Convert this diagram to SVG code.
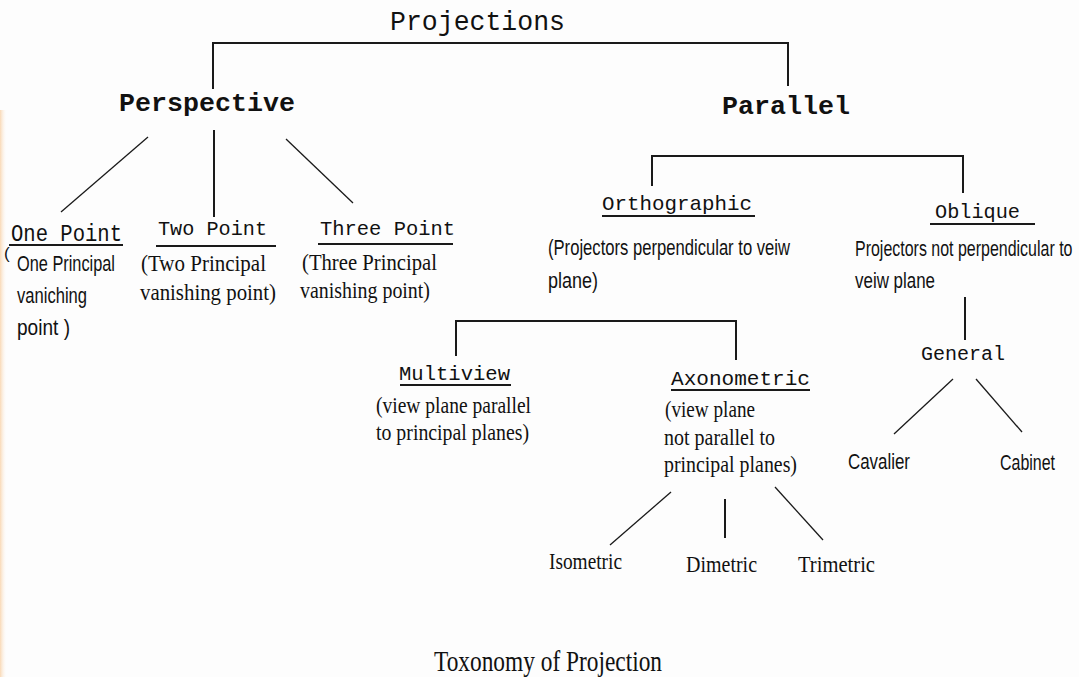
<svg xmlns="http://www.w3.org/2000/svg" width="1079" height="677" viewBox="0 0 1079 677">
<defs>
<linearGradient id="edge" x1="0" y1="0" x2="1" y2="0">
<stop offset="0" stop-color="#f9d9b6"/>
<stop offset="1" stop-color="#fdfdfd" stop-opacity="0"/>
</linearGradient>
<style>
.mono{font-family:"Liberation Mono","Courier New",monospace;fill:#111}
.big{font-size:26px;font-weight:bold}
.mid{font-size:21px}
.sans{font-family:"Liberation Sans",Arial,sans-serif;font-size:22px;fill:#111}
.serif{font-family:"Liberation Serif","Times New Roman",serif;font-size:23px;fill:#111}
.ln{stroke:#1a1a1a;stroke-width:2;fill:none}
.dg{stroke:#1a1a1a;stroke-width:1.3;fill:none}
.ul{stroke:#1a1a1a;stroke-width:2}
</style>
</defs>
<rect width="1079" height="677" fill="#fdfdfd"/>
<rect x="0" y="110" width="7" height="567" fill="url(#edge)"/>
<g id="connectors">
<polyline class="ln" points="213,89 213,43 788,43 788,86"/>
<line class="dg" x1="148" y1="137" x2="61" y2="212"/>
<line class="ln" x1="214" y1="130" x2="214" y2="217"/>
<line class="dg" x1="286" y1="139" x2="353" y2="203"/>
<polyline class="ln" points="652,186 652,156 963,156 963,193"/>
<polyline class="ln" points="456,356 456,321 736,321 736,360"/>
<line class="ln" x1="965" y1="297" x2="965" y2="340"/>
<line class="dg" x1="953" y1="379" x2="894" y2="434"/>
<line class="dg" x1="976" y1="379" x2="1022" y2="432"/>
<line class="dg" x1="671" y1="492" x2="610" y2="545"/>
<line class="ln" x1="725" y1="499" x2="725" y2="538"/>
<line class="dg" x1="775" y1="487" x2="823" y2="540"/>
</g>
<g id="projections">
<text class="mono" x="390" y="30" style="font-size:27px" textLength="175" lengthAdjust="spacingAndGlyphs">Projections</text>
</g>
<g id="perspective">
<text class="mono big" x="119" y="111" textLength="176" lengthAdjust="spacingAndGlyphs">Perspective</text>
</g>
<g id="parallel">
<text class="mono big" x="722" y="114" textLength="128" lengthAdjust="spacingAndGlyphs">Parallel</text>
</g>
<g id="one-point">
<text class="mono mid" x="11" y="241" style="font-size:23px" textLength="111" lengthAdjust="spacingAndGlyphs">One Point</text>
<line class="ul" x1="9" y1="245" x2="123" y2="245"/>
<text class="sans" x="4" y="259" style="font-size:17px">(</text>
<text class="sans" x="17" y="271" textLength="98" lengthAdjust="spacingAndGlyphs">One Principal</text>
<text class="sans" x="17" y="303" textLength="70" lengthAdjust="spacingAndGlyphs">vaniching</text>
<text class="sans" x="17" y="335" textLength="53" lengthAdjust="spacingAndGlyphs">point  )</text>
</g>
<g id="two-point">
<text class="mono mid" x="158" y="235" textLength="109" lengthAdjust="spacingAndGlyphs">Two Point</text>
<line class="ul" x1="156" y1="246" x2="276" y2="246"/>
<text class="serif" x="141" y="271" textLength="125" lengthAdjust="spacingAndGlyphs">(Two Principal</text>
<text class="serif" x="140" y="300" textLength="136" lengthAdjust="spacingAndGlyphs">vanishing point)</text>
</g>
<g id="three-point">
<text class="mono mid" x="320" y="235" textLength="135" lengthAdjust="spacingAndGlyphs">Three Point</text>
<line class="ul" x1="318" y1="244" x2="453" y2="244"/>
<text class="serif" x="302" y="270" textLength="135" lengthAdjust="spacingAndGlyphs">(Three Principal</text>
<text class="serif" x="300" y="298" textLength="130" lengthAdjust="spacingAndGlyphs">vanishing point)</text>
</g>
<g id="orthographic">
<text class="mono mid" x="602" y="210" textLength="150" lengthAdjust="spacingAndGlyphs">Orthographic</text>
<line class="ul" x1="602" y1="216" x2="755" y2="216"/>
<text class="sans" x="548" y="255" textLength="242" lengthAdjust="spacingAndGlyphs">(Projectors perpendicular to veiw</text>
<text class="sans" x="548" y="288" textLength="50" lengthAdjust="spacingAndGlyphs">plane)</text>
</g>
<g id="oblique">
<text class="mono mid" x="935" y="218" textLength="85" lengthAdjust="spacingAndGlyphs">Oblique</text>
<line class="ul" x1="930" y1="224" x2="1035" y2="224"/>
<text class="sans" x="0" y="0" transform="translate(855,256) scale(0.75,1)" textLength="290" lengthAdjust="spacingAndGlyphs">Projectors not perpendicular to</text>
<text class="sans" x="855" y="288" textLength="80" lengthAdjust="spacingAndGlyphs">veiw plane</text>
</g>
<g id="general">
<text class="mono mid" x="921" y="360" style="font-size:20px" textLength="84" lengthAdjust="spacingAndGlyphs">General</text>
</g>
<g id="cavalier">
<text class="sans" x="848" y="469" textLength="62" lengthAdjust="spacingAndGlyphs">Cavalier</text>
</g>
<g id="cabinet">
<text class="sans" x="1000" y="470" textLength="55" lengthAdjust="spacingAndGlyphs">Cabinet</text>
</g>
<g id="multiview">
<text class="mono mid" x="399" y="380" textLength="111" lengthAdjust="spacingAndGlyphs">Multiview</text>
<line class="ul" x1="400" y1="385" x2="511" y2="385"/>
<text class="serif" x="376" y="413" textLength="155" lengthAdjust="spacingAndGlyphs">(view plane parallel</text>
<text class="serif" x="376" y="440" textLength="153" lengthAdjust="spacingAndGlyphs">to principal planes)</text>
</g>
<g id="axonometric">
<text class="mono mid" x="671" y="385" textLength="139" lengthAdjust="spacingAndGlyphs">Axonometric</text>
<line class="ul" x1="671" y1="390" x2="810" y2="390"/>
<text class="serif" x="665" y="417" textLength="90" lengthAdjust="spacingAndGlyphs">(view plane</text>
<text class="serif" x="664" y="445" textLength="111" lengthAdjust="spacingAndGlyphs">not parallel to</text>
<text class="serif" x="664" y="472" textLength="133" lengthAdjust="spacingAndGlyphs">principal planes)</text>
</g>
<g id="isometric">
<text class="serif" x="549" y="569" textLength="73" lengthAdjust="spacingAndGlyphs">Isometric</text>
</g>
<g id="dimetric">
<text class="serif" x="686" y="572" textLength="71" lengthAdjust="spacingAndGlyphs">Dimetric</text>
</g>
<g id="trimetric">
<text class="serif" x="798" y="572" textLength="77" lengthAdjust="spacingAndGlyphs">Trimetric</text>
</g>
<g id="caption">
<text class="serif" x="434" y="671" style="font-size:30px" textLength="228" lengthAdjust="spacingAndGlyphs">Toxonomy of Projection</text>
</g>
</svg>
